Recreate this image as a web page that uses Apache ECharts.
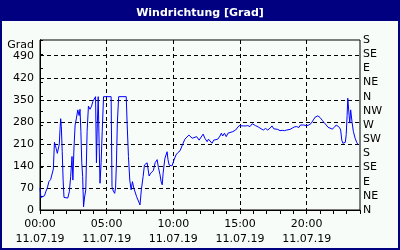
<!DOCTYPE html>
<html>
<head>
<meta charset="utf-8">
<script src="https://cdn.jsdelivr.net/npm/echarts@6/dist/echarts.min.js"></script>
<style>
html,body{margin:0;padding:0;background:#000080;}
#chart{width:400px;height:250px;}
</style>
</head>
<body>
<div id="chart"></div>
<script>
// ---- data ----
const dateLabel = '11.07.19';
const xTickHours = [0, 5, 10, 15, 20];
const yTickLabels = [0, 70, 140, 210, 280, 350, 420, 490];
const compassLabels = ['N', 'NE', 'E', 'SE', 'S', 'SW', 'W', 'NW'];
const times = [
 '00:00','00:04','00:12','00:20','00:27','00:33','00:40','00:48','00:55','01:00',
 '01:05','01:09','01:13','01:18','01:23','01:27','01:30','01:33','01:36','01:40',
 '01:44','01:48','01:55','02:05','02:12','02:18','02:24','02:28','02:33','02:38',
 '02:44','02:50','02:56','03:00','03:04','03:08','03:12','03:16','03:20','03:26',
 '03:32','03:38','03:45','03:52','03:58','04:04','04:10','04:14','04:18','04:22',
 '04:26','04:30','04:35','04:40','04:46','05:20','05:24','05:30','05:36','05:40',
 '05:44','05:48','05:54','06:28','06:32','06:38','06:44','06:50','06:56','07:02',
 '07:08','07:15','07:25','07:30','07:36','07:44','07:50','08:02','08:11','08:18',
 '08:24','08:30','08:38','08:47','08:53','09:00','09:05','09:10','09:14','09:22',
 '09:32','09:36','09:41','09:48','09:54','10:03','10:12','10:20','10:30','10:36',
 '10:44','10:52','11:00','11:10','11:17','11:25','11:33','11:45','11:56','12:05',
 '12:14','12:22','12:32','12:38','12:46','12:54','13:02','13:10','13:20','13:30',
 '13:36','13:42','13:50','13:58','14:06','14:15','14:28','14:40','14:48','14:56',
 '15:05','15:15','15:25','15:35','15:45','15:55','16:02','16:10','16:24','16:35',
 '16:45','16:55','17:05','17:15','17:24','17:32','17:40','17:50','18:00','18:10',
 '18:20','18:30','18:45','18:55','19:05','19:15','19:25','19:32','19:45','20:00',
 '20:10','20:20','20:30','20:38','20:50','21:00','21:10','21:18','21:28','21:36',
 '21:45','21:55','22:05','22:13','22:20','22:28','22:33','22:38','22:43','22:50',
 '22:54','22:58','23:02','23:05','23:08','23:11','23:14','23:18','23:24','23:30',
 '23:38','23:45','23:52'
];
const values = [
 70,40,38,45,60,70,90,97,95,130,
 215,205,195,180,175,210,255,290,265,185,
 95,40,38,38,58,106,170,95,200,270,
 292,318,300,320,250,150,106,10,38,64,
 250,330,320,330,345,350,360,150,276,360,
 212,85,150,250,360,360,74,60,53,70,
 149,276,360,360,276,170,95,64,90,70,
 64,42,25,16,64,106,143,150,108,117,
 122,125,150,160,135,112,90,80,117,164,
 185,160,143,138,140,159,175,182,188,185,
 212,225,228,238,233,228,230,233,222,228,
 241,228,217,225,222,212,222,220,225,235,
 244,235,244,233,244,238,249,254,260,268,
 270,267,267,268,265,274,276,268,263,258,
 254,259,254,260,267,258,254,256,252,253,
 252,254,256,260,264,265,262,270,270,268,
 270,275,286,295,299,294,285,278,270,263,
 265,257,263,270,272,262,254,222,212,207,
 215,240,300,355,360,300,276,318,280,250,
 228,215,207
];

function toHours(t) {
  const p = t.split(':');
  return Number(p[0]) + Number(p[1]) / 60;
}
const seriesData = times.map((t, i) => [toHours(t), values[i]]);
const pad = n => (n < 10 ? '0' : '') + n;

const FONT = 'DejaVu Sans';
const chart = echarts.init(document.getElementById('chart'), null, {renderer: 'canvas'});
chart.setOption({
  animation: false,
  backgroundColor: '#000080',
  graphic: {
    elements: [{
      type: 'rect', z: -100, silent: true,
      shape: {x: 2, y: 21, width: 396, height: 227},
      style: {fill: '#f8fcf8'}
    }]
  },
  title: {
    text: 'Windrichtung [Grad]',
    left: 'center', top: 3,
    textStyle: {color: '#ffffff', fontWeight: 'bold', fontSize: 11, fontFamily: FONT}
  },
  grid: {
    left: 40, right: 40, top: 40, bottom: 40,
    show: true, borderColor: '#000', borderWidth: 1, backgroundColor: 'transparent'
  },
  xAxis: [{
    type: 'value', min: 0, max: 24, interval: 5,
    axisLine: {lineStyle: {color: '#000', width: 1}},
    axisTick: {show: false},
    axisLabel: {
      color: '#000', fontFamily: FONT, fontSize: 11, lineHeight: 15, margin: 7,
      formatter: v => (xTickHours.indexOf(v) >= 0 ? pad(v) + ':00\n' + dateLabel : '')
    },
    splitLine: {show: true, showMinLine: false, showMaxLine: false,
      lineStyle: {color: '#000', type: [4, 3], width: 1}}
  }, {
    type: 'value', min: 0, max: 24, interval: 1, position: 'bottom',
    axisLine: {show: false},
    axisTick: {show: true, length: 4, lineStyle: {color: '#000', width: 1}},
    axisLabel: {show: false},
    splitLine: {show: false}
  }],
  yAxis: [{
    type: 'value', min: 0, max: 540, interval: 70, position: 'left',
    name: 'Grad', nameLocation: 'end', nameGap: -5,
    nameTextStyle: {color: '#000', fontFamily: FONT, fontSize: 11, align: 'right',
      verticalAlign: 'middle', padding: [0, 6, 0, 0]},
    axisLine: {show: true, lineStyle: {color: '#000', width: 1}},
    axisTick: {show: false},
    axisLabel: {
      color: '#000', fontFamily: FONT, fontSize: 11, margin: 6,
      formatter: v => (yTickLabels.indexOf(v) >= 0 ? String(v) : '')
    },
    splitLine: {show: true, showMinLine: false, showMaxLine: false,
      lineStyle: {color: '#000', type: [4, 3], width: 1}}
  }, {
    type: 'value', min: 0, max: 540, interval: 45, position: 'right',
    axisLine: {show: true, lineStyle: {color: '#000', width: 1}},
    axisTick: {show: true, length: 3, lineStyle: {color: '#000', width: 1}},
    axisLabel: {
      color: '#000', fontFamily: FONT, fontSize: 11, margin: 3,
      formatter: v => compassLabels[Math.round(v / 45) % 8]
    },
    splitLine: {show: false}
  }],
  series: [{
    type: 'line', xAxisIndex: 0, yAxisIndex: 0,
    data: seriesData,
    showSymbol: false, symbol: 'none',
    lineStyle: {color: '#0000ff', width: 1},
    itemStyle: {color: '#0000ff'}
  }]
});
</script>
</body>
</html>
